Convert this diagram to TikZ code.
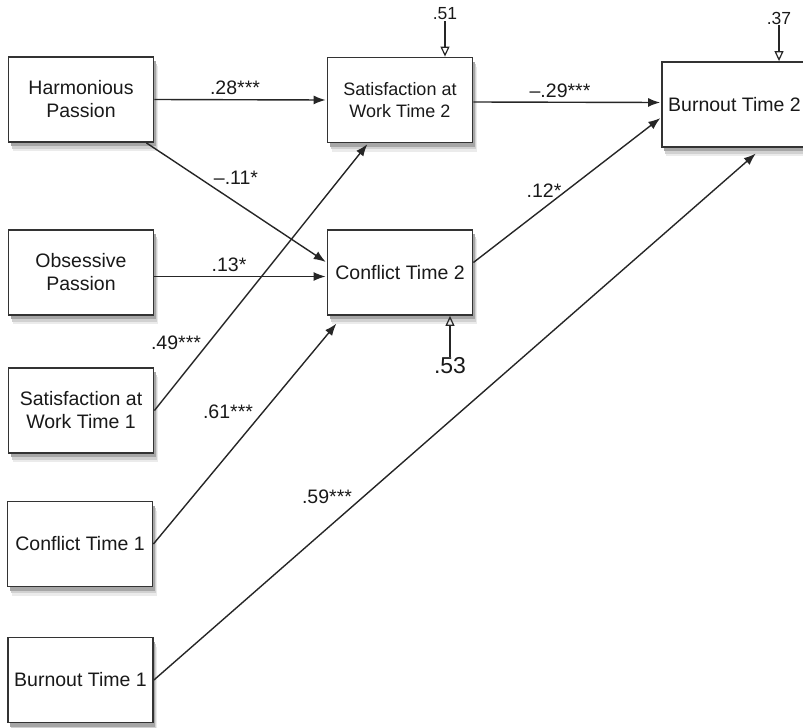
\documentclass[tikz,border=0pt]{standalone}
\usepackage{fontspec}
\setmainfont{Liberation Sans}
\usetikzlibrary{arrows.meta,shadows}

\begin{document}
\begin{tikzpicture}[x=1pt,y=-1pt,>={Latex[length=12pt,width=9pt]},shorten >=1pt]
	\tikzset{every node/.style={font=\fontsize{19.5}{23}\selectfont,text=black!90}}
	\tikzset{var/.style={draw=black!80,line width=1.8pt,fill=white,minimum width=145pt,minimum height=85pt,
			align=center,inner sep=0pt,
			drop shadow={shadow xshift=4pt,shadow yshift=-9pt,fill=black!8,opacity=1},
			drop shadow={shadow xshift=3pt,shadow yshift=-6.5pt,fill=black!18,opacity=1},
			drop shadow={shadow xshift=2pt,shadow yshift=-4pt,fill=black!35,opacity=1}}}
	\tikzset{coef/.style={inner sep=1pt}}
	\tikzset{link/.style={->,draw=black!85,line width=1.4pt}}
	\tikzset{resid/.style={-{Triangle[open,length=10pt,width=9pt,line width=1.2pt]},draw=black!85,line width=1.4pt,shorten >=0pt}}
	\useasboundingbox (0,0) rectangle (803,728);
	
	% exogenous (time 1 and passion)
	\node[var] (hp)   at (81,99.5)   {Harmonious\\Passion};
	\node[var] (op)   at (81,272.5)  {Obsessive\\Passion};
	\node[var] (sat1) at (81,410.5)  {Satisfaction at\\Work Time 1};
	\node[var] (con1) at (80,544)    {Conflict Time 1};
	\node[var] (bur1) at (80.5,680)  {Burnout Time 1};
	% time 2
	\node[var,font=\fontsize{18}{22}\selectfont] (sat2) at (400,100) {Satisfaction at\\Work Time 2};
	\node[var] (con2) at (400,272.5) {Conflict Time 2};
	\node[var] (bur2) at (734.5,104.5) {Burnout Time 2};
	
	% coefficients
	\node[coef] (c28) at (235,88)  {.28***};
	\node[coef] (c11) at (236,178) {--.11*};
	\node[coef] (c13) at (229,265) {.13*};
	\node[coef] (c49) at (176,343) {.49***};
	\node[coef] (c61) at (228,412) {.61***};
	\node[coef] (c59) at (327,497) {.59***};
	\node[coef] (c29) at (560,91)  {--.29***};
	\node[coef] (c12) at (544,191) {.12*};
	% residuals
	\node[coef,font=\fontsize{17.5}{20}\selectfont] (r51) at (445,14) {.51};
	\node[coef,font=\fontsize{17.5}{20}\selectfont] (r37) at (779,18) {.37};
	\node[coef,font=\fontsize{23}{26}\selectfont] (r53) at (450,366) {.53};
	
	\path
	(hp.east)                      edge [link] (sat2.west)
	([xshift=-8pt]hp.south east)   edge [link] ([yshift=10pt]con2.west)
	([yshift=-4pt]op.east)         edge [link] ([yshift=-4pt]con2.west)
	(sat1.east)                    edge [link] ([xshift=-32pt]sat2.south)
	(con1.east)                    edge [link] ([xshift=-63pt,yshift=-7pt]con2.south)
	(bur1.east)                    edge [link] ([xshift=22pt,yshift=-5pt]bur2.south)
	([yshift=-2pt]sat2.east)       edge [link] ([yshift=2pt]bur2.west)
	([yshift=10pt]con2.east)       edge [link] ([yshift=-13pt]bur2.west);
	
	\path
	(r51.south) edge [resid] (r51.south |- sat2.north)
	(r37.south) edge [resid] (r37.south |- bur2.north)
	(r53.north) edge [resid] (r53.north |- con2.south);
	
\end{tikzpicture}
\end{document}
